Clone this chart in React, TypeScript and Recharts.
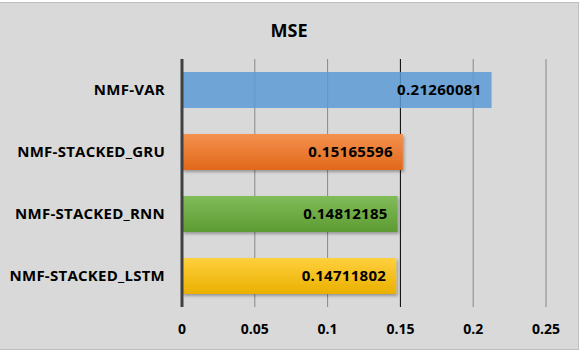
import { BarChart, Bar, XAxis, YAxis, CartesianGrid, Cell, LabelList } from "recharts";

// MSE per model, top to bottom as in the chart
const models = ["NMF-VAR", "NMF-STACKED_GRU", "NMF-STACKED_RNN", "NMF-STACKED_LSTM"];
const mseValues = [0.21260081, 0.15165596, 0.14812185, 0.14711802];
const mseLabels = ["0.21260081", "0.15165596", "0.14812185", "0.14711802"];
const xTicks = [0, 0.05, 0.1, 0.15, 0.2, 0.25];
const xTickLabels = ["0", "0.05", "0.1", "0.15", "0.2", "0.25"];
const barFills = ["#5B9BD5", "url(#mseOrange)", "url(#mseGreen)", "url(#mseGold)"];

const chartData = models.map((m, i) => ({ model: m, mse: mseValues[i], label: mseLabels[i] }));

const FONT = '"Open Sans", "Noto Sans", sans-serif';

function GridLine(props: any) {
  // the 0.15 line is drawn darker in the original
  const dark = props.index === 3;
  return (
    <line
      x1={props.x1}
      y1={props.y1}
      x2={props.x2}
      y2={props.y2}
      stroke={dark ? "#000000" : "#888888"}
      strokeWidth={1}
    />
  );
}

export default function App() {
  return (
    <div style={{ position: "absolute", left: 0, top: 0, width: 581, height: 352, background: "#ffffff", fontFamily: FONT }}>
      <div
        style={{
          position: "absolute",
          left: 0,
          top: 2,
          width: 578,
          height: 346,
          background: "#D9D9D9",
          border: "1px solid #BFBFBF",
          borderLeft: "none",
        }}
      />
      <svg width={0} height={0} style={{ position: "absolute" }}>
        <defs>
          <linearGradient id="mseOrange" x1="0" y1="0" x2="0" y2="1">
            <stop offset="0%" stopColor="#F4914F" />
            <stop offset="100%" stopColor="#E2681A" />
          </linearGradient>
          <linearGradient id="mseGreen" x1="0" y1="0" x2="0" y2="1">
            <stop offset="0%" stopColor="#80BC58" />
            <stop offset="100%" stopColor="#5D9B33" />
          </linearGradient>
          <linearGradient id="mseGold" x1="0" y1="0" x2="0" y2="1">
            <stop offset="0%" stopColor="#FFD03E" />
            <stop offset="100%" stopColor="#EAB000" />
          </linearGradient>
          <filter id="barShadow" x="-5%" y="-20%" width="115%" height="160%">
            <feDropShadow dx="1.5" dy="2" stdDeviation="1.5" floodColor="#000" floodOpacity="0.3" />
          </filter>
        </defs>
      </svg>
      <div
        style={{
          position: "absolute",
          left: 0,
          top: 17,
          width: 578,
          textAlign: "center",
          fontSize: 18,
          fontWeight: 700,
          color: "#000",
          lineHeight: "26px",
        }}
      >
        MSE
      </div>
      <div style={{ position: "absolute", left: 0, top: 0 }}>
        <BarChart
          width={581}
          height={352}
          data={chartData}
          layout="vertical"
          margin={{ top: 59, right: 35, bottom: 15, left: 0 }}
          barSize={36}
        >
          <CartesianGrid horizontal={false} vertical={(p: any) => <GridLine key={`g-${p.index}`} {...p} />} />
          <XAxis
            type="number"
            domain={[0, 0.25]}
            ticks={xTicks}
            tickFormatter={(_v: number, i: number) => xTickLabels[i]}
            axisLine={false}
            tickLine={false}
            tickMargin={11}
            height={30}
            tick={{ fontSize: 14, fontWeight: 700, fill: "#000", fontFamily: FONT }}
          />
          <YAxis
            type="category"
            dataKey="model"
            width={182}
            tickLine={false}
            tickMargin={11}
            axisLine={{ stroke: "#404040", strokeWidth: 3 }}
            tick={{ fontSize: 15, fontWeight: 700, fill: "#000", fontFamily: FONT, letterSpacing: 0.25 }}
          />
          <Bar dataKey="mse" isAnimationActive={false}>
            {chartData.map((_d, i) => (
              <Cell
                key={`c-${i}`}
                fill={barFills[i]}
                fillOpacity={i === 0 ? 0.85 : 1}
                filter={i === 0 ? undefined : "url(#barShadow)"}
              />
            ))}
            <LabelList
              dataKey="label"
              position="insideRight"
              offset={10}
              style={{ fontSize: 15, fontWeight: 700, fill: "#000", fontFamily: FONT, letterSpacing: 0.3 }}
            />
          </Bar>
        </BarChart>
      </div>
    </div>
  );
}
